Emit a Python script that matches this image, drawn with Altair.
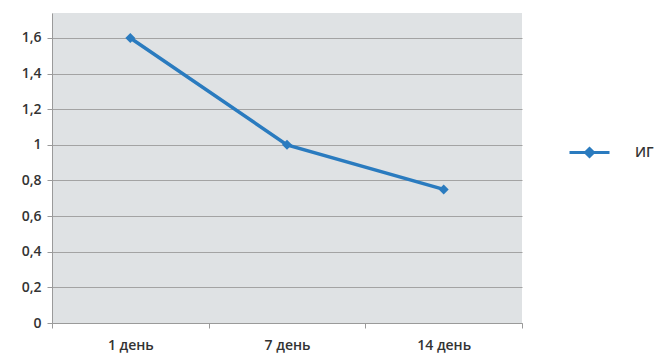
import altair as alt
import pandas as pd

days = ["1 день", "7 день", "14 день"]
values = [1.6, 1.0, 0.75]
series = ["ИГ", "ИГ", "ИГ"]
y_ticks = [0, 0.2, 0.4, 0.6, 0.8, 1.0, 1.2, 1.4, 1.6]

df = pd.DataFrame({"day": days, "value": values, "series": series})

FONT = "Open Sans"
BLUE = "#2a7bbf"

x = alt.X("day:N", sort=days, bandPosition=0.5,
          scale=alt.Scale(type="band", paddingInner=0, paddingOuter=0),
          axis=alt.Axis(title=None, tickBand="extent", labelAngle=0, grid=False,
                        domainColor="#9a9a9a", tickColor="#9a9a9a", tickSize=5,
                        labelFont=FONT, labelFontSize=14, labelFontWeight=600,
                        labelColor="#333333", labelPadding=10))
y = alt.Y("value:Q", scale=alt.Scale(domain=[0, 1.74], nice=False, zero=True),
          axis=alt.Axis(title=None, values=y_ticks,
                        labelExpr="replace(format(datum.value, '.1~f'), '.', ',')",
                        grid=True, gridColor="#a3a3a3", gridWidth=1,
                        domainColor="#9a9a9a", tickColor="#9a9a9a", tickSize=5,
                        labelFont=FONT, labelFontSize=14, labelFontWeight=600,
                        labelColor="#333333", labelPadding=6))

color = alt.Color("series:N", scale=alt.Scale(range=[BLUE]),
                  legend=alt.Legend(title=None, orient="none", legendX=516, legendY=118,
                                    symbolType="M-1,0H1M0,-0.2L0.2,0L0,0.2L-0.2,0Z",
                                    symbolSize=1600, symbolStrokeWidth=3,
                                    symbolFillColor=BLUE, symbolStrokeColor=BLUE,
                                    labelFont=FONT, labelFontSize=14, labelFontWeight=600,
                                    labelColor="#333333", labelOffset=24))

line = alt.Chart(df).mark_line(strokeWidth=3.5).encode(x=x, y=y, color=color)
pts = alt.Chart(df).mark_point(shape="diamond", filled=True, size=100, opacity=1, color=BLUE).encode(x=x, y=y)

chart = alt.layer(line, pts).properties(
    width=470, height=310,
    autosize=alt.AutoSizeParams(type="none"),
    padding={"left": 52, "top": 13, "right": 134, "bottom": 34},
    background="white",
).configure_view(fill="#dfe2e4", stroke=None)

chart.save("out.html", embed_options={"renderer": "svg", "actions": False})
